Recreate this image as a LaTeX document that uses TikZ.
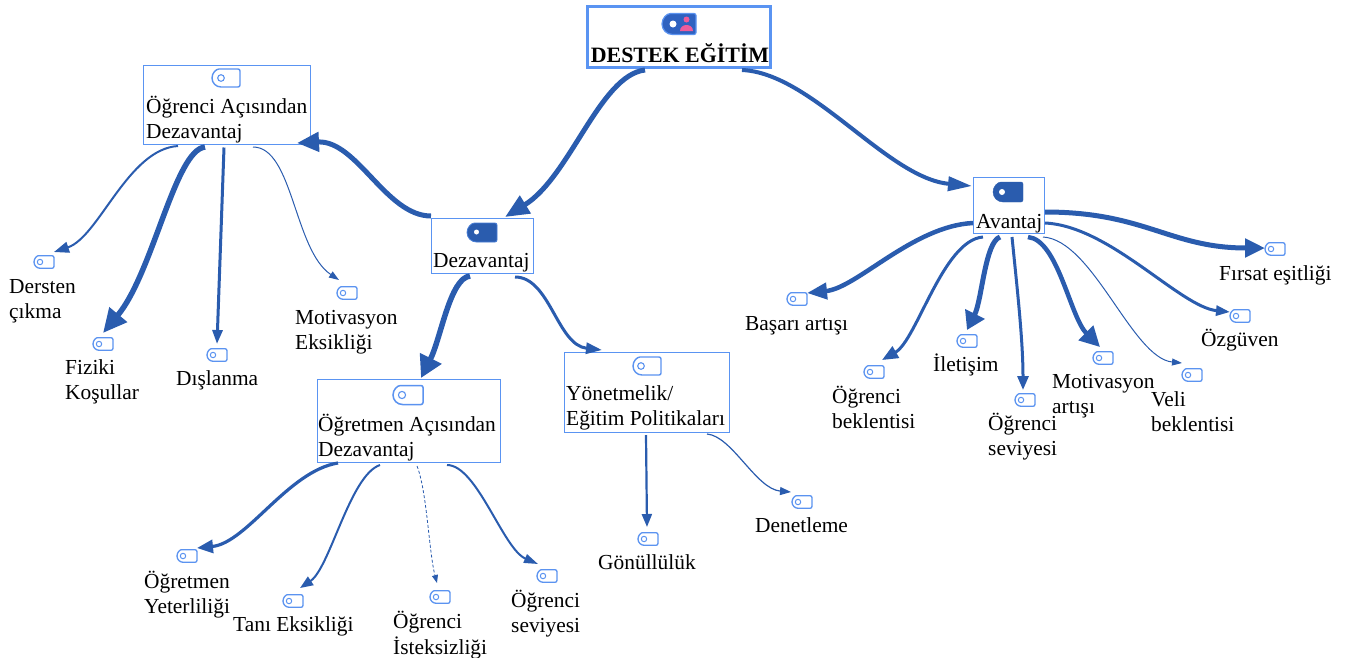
\documentclass[tikz,border=0pt]{standalone}
\usepackage{fontspec}
\setmainfont{Liberation Serif}
\usetikzlibrary{arrows.meta,calc}
\definecolor{linkblue}{HTML}{2A5CAE}
\definecolor{boxblue}{HTML}{5A94F2}
\definecolor{iconblue}{HTML}{5B93F0}
\definecolor{rootfill}{HTML}{2F62C0}
\definecolor{pinky}{HTML}{EE5C9C}
\tikzset{
  x=1pt,y=-1pt,
  txt/.style={font=\fontsize{21.4}{25}\selectfont,text=black,align=left,inner sep=0pt,anchor=north west},
  mainbox/.style={draw=boxblue,line width=0.8pt,fill=white,inner sep=0pt},
  leaficon/.style={minimum width=21pt,minimum height=13pt,inner sep=0pt},
  conn/.style n args={3}{draw=linkblue,line width=#1,-{Triangle[length=#2,width=#3]}},
}
\newcommand{\lab}[4]{\node[txt] (#1) at (#2,#3-10.5) {\strut #4};}
% tag outline: centre x, centre y, half width, half height, options
\newcommand{\tagshape}[5]{\draw[#5] (#1-#3+#4,#2-#4) arc (270:90:#4) [rounded corners=2pt] -- (#1+#3,#2+#4) -- (#1+#3,#2-#4) -- cycle;}
\newcommand{\leaf}[3]{\node[leaficon] (#1) at (#2,#3) {};
  \tagshape{#2}{#3}{10}{6.3}{iconblue,line width=1.3pt}
  \draw[iconblue,line width=1pt] (#2-4,#3) circle (2.7pt);}
\begin{document}
\begin{tikzpicture}
\useasboundingbox (0,0) rectangle (1349,657);
% boxes
\node[mainbox,line width=2.2pt,minimum width=183pt,minimum height=61pt] (root) at (679,37) {};
\node[mainbox,minimum width=167pt,minimum height=79pt] (stu) at (226.5,104.5) {};
\node[mainbox,minimum width=102pt,minimum height=55pt] (dez) at (482,245.5) {};
\node[mainbox,minimum width=71pt,minimum height=56pt] (ava) at (1008.5,205) {};
\node[mainbox,minimum width=183pt,minimum height=83pt] (tea) at (408.5,420.5) {};
\node[mainbox,minimum width=165pt,minimum height=80pt] (pol) at (646.5,392) {};
% box icons
\tagshape{679}{24}{17}{10.5}{draw=iconblue,fill=rootfill,line width=1.2pt}
\fill[white] (673,24) circle (3.5pt);
\fill[pinky] (686.5,19.5) circle (3pt) (680,31) .. controls (680,23) and (693,23) .. (693,31) -- cycle;
\tagshape{226}{78}{14}{9}{iconblue,fill=white,line width=1.4pt}
\draw[iconblue,line width=1.1pt] (221,78) circle (3.3pt);
\tagshape{482}{232.5}{15}{9.5}{fill=linkblue,draw=iconblue!60!linkblue,line width=0.8pt}
\fill[white] (476.5,232) circle (2.5pt);
\tagshape{1008}{192}{15}{10}{fill=linkblue,draw=linkblue}
\fill[white] (1002,192) circle (3pt);
\tagshape{408}{395}{15}{9.5}{iconblue,fill=white,line width=1.5pt}
\draw[iconblue,line width=1.1pt] (402,395) circle (3.6pt);
\tagshape{647}{366}{14}{9}{iconblue,fill=white,line width=1.4pt}
\draw[iconblue,line width=1.1pt] (641,366) circle (3.3pt);
% leaf icons
\leaf{l1}{44}{262}
\leaf{l2}{103}{344}
\leaf{l3}{217}{355}
\leaf{l4}{347}{293}
\leaf{l5}{187}{556}
\leaf{l6}{293}{601}
\leaf{l7}{440}{597}
\leaf{l8}{547}{576}
\leaf{l9}{648}{539}
\leaf{l10}{802}{502}
\leaf{l11}{797}{299}
\leaf{l12}{874}{372}
\leaf{l13}{967}{341}
\leaf{l14}{1025}{400}
\leaf{l15}{1103}{358}
\leaf{l16}{1192}{375}
\leaf{l17}{1240}{316}
\leaf{l18}{1275}{249}
% box texts
\node[inner sep=0pt,font=\fontsize{21.9}{25}\bfseries\selectfont] (roott) at (680,53.5) {DESTEK EĞİTİM};
\lab{stut}{146}{106}{Öğrenci Açısından\\Dezavantaj}
\lab{dezt}{433}{260}{Dezavantaj}
\lab{avat}{976}{221}{Avantaj}
\lab{teat}{318}{424}{Öğretmen Açısından\\Dezavantaj}
\lab{polt}{566}{393}{Yönetmelik/\\Eğitim Politikaları}
% leaf labels
\lab{t1}{9}{286}{Dersten\\çıkma}
\lab{t2}{65}{367}{Fiziki\\Koşullar}
\lab{t3}{176}{378}{Dışlanma}
\lab{t4}{295}{317}{Motivasyon\\Eksikliği}
\lab{t5}{144}{581}{Öğretmen\\Yeterliliği}
\lab{t6}{233}{624}{Tanı Eksikliği}
\lab{t7}{393}{621}{Öğrenci\\İsteksizliği}
\lab{t8}{511}{600}{Öğrenci\\seviyesi}
\lab{t9}{598}{562}{Gönüllülük}
\lab{t10}{755}{525}{Denetleme}
\lab{t11}{745}{323}{Başarı artışı}
\lab{t12}{832}{396}{Öğrenci\\beklentisi}
\lab{t13}{933}{364}{İletişim}
\lab{t14}{988}{423}{Öğrenci\\seviyesi}
\lab{t15}{1052}{381}{Motivasyon\\artışı}
\lab{t16}{1151}{399}{Veli\\beklentisi}
\lab{t17}{1201}{339}{Özgüven}
\lab{t18}{1219}{273}{Fırsat eşitliği}
% connectors
\path[conn={5pt}{24pt}{20pt}] ($(root)+(-34,33)$) .. controls +(-45,5) and +(65,-40) .. ($(dez)+(23,-28.5)$);
\path[conn={4pt}{24pt}{14pt}] ($(root)+(63,33)$) .. controls +(70,3) and +(-85,-8) .. ($(ava)+(-36.5,-19)$);
\path[conn={5pt}{22pt}{19pt}] ($(dez)+(-51,-29.5)$) .. controls +(-45,0) and +(60,-3) .. ($(stu)+(70.5,38.5)$);
\path[conn={2pt}{15pt}{11pt}] ($(stu)+(-48.5,41.5)$) .. controls +(-50,3) and +(45,-15) .. ($(l1)+(10,-10)$);
\path[conn={5.5pt}{24pt}{22pt}] ($(stu)+(-21.5,42.5)$) .. controls +(-30,3) and +(50,-60) .. ($(l2)+(0,-11)$);
\path[conn={3pt}{14pt}{10pt}] ($(stu)+(-2.5,43)$) -- ($(l3)+(0,-11)$);
\path[conn={1pt}{10pt}{7pt}] ($(stu)+(26.5,42.5)$) .. controls +(40,0) and +(-45,-30) .. ($(l4)+(-8,-13)$);
\path[conn={5.5pt}{22pt}{23pt}] ($(dez)+(-12,30.5)$) .. controls +(-20,2) and +(20,-40) .. ($(tea)+(12.5,-42.5)$);
\path[conn={3pt}{16pt}{11pt}] ($(dez)+(33,31.5)$) .. controls +(35,0) and +(-45,-5) .. ($(pol)+(-44.5,-42)$);
\path[conn={3.2pt}{16pt}{13pt}] ($(tea)+(-70.5,42.5)$) .. controls +(-50,8) and +(50,-5) .. ($(l5)+(10,-8)$);
\path[conn={2pt}{13pt}{10pt}] ($(tea)+(-28.5,44.5)$) .. controls +(-30,10) and +(30,-20) .. ($(l6)+(7,-13)$);
\path[conn={0.8pt}{8pt}{6pt},densely dashed] ($(tea)+(8.5,45.5)$) .. controls +(10,25) and +(-8,-30) .. ($(l7)+(-3,-14)$);
\path[conn={2pt}{14pt}{9pt}] ($(tea)+(38.5,44.5)$) .. controls +(30,0) and +(-35,-15) .. ($(l8)+(-9,-12)$);
\path[conn={2.2pt}{13pt}{10pt}] ($(pol)+(-0.5,43)$) -- ($(l9)+(-1,-12)$);
\path[conn={1.2pt}{11pt}{8pt}] ($(pol)+(60.5,42)$) .. controls +(25,2) and +(-35,-3) .. ($(l10)+(-11,-10)$);
\path[conn={5pt}{20pt}{18pt}] ($(ava)+(36.5,7)$) .. controls +(100,0) and +(-95,0) .. ($(l18)+(-10,-1)$);
\path[conn={3pt}{14pt}{10pt}] ($(ava)+(36.5,18)$) .. controls +(65,3) and +(-50,-5) .. ($(l17)+(-10,-4)$);
\path[conn={1pt}{10pt}{7pt}] ($(ava)+(34.5,32)$) .. controls +(50,3) and +(-50,-5) .. ($(l16)+(-10,-12)$);
\path[conn={4.5pt}{20pt}{20pt}] ($(ava)+(19.5,32)$) .. controls +(30,3) and +(-30,-30) .. ($(l15)+(-3,-11)$);
\path[conn={3pt}{14pt}{11pt}] ($(ava)+(3.5,32)$) .. controls +(5,50) and +(0,-50) .. ($(l14)+(-2,-10)$);
\path[conn={5pt}{18pt}{21pt}] ($(ava)+(-8.5,32)$) .. controls +(-15,5) and +(15,-30) .. ($(l13)+(0,-11)$);
\path[conn={3pt}{16pt}{13pt}] ($(ava)+(-25.5,32)$) .. controls +(-40,3) and +(35,-20) .. ($(l12)+(8,-12)$);
\path[conn={4.5pt}{20pt}{16pt}] ($(ava)+(-35.5,18)$) .. controls +(-60,3) and +(50,-5) .. ($(l11)+(10,-6)$);
\end{tikzpicture}
\end{document}
